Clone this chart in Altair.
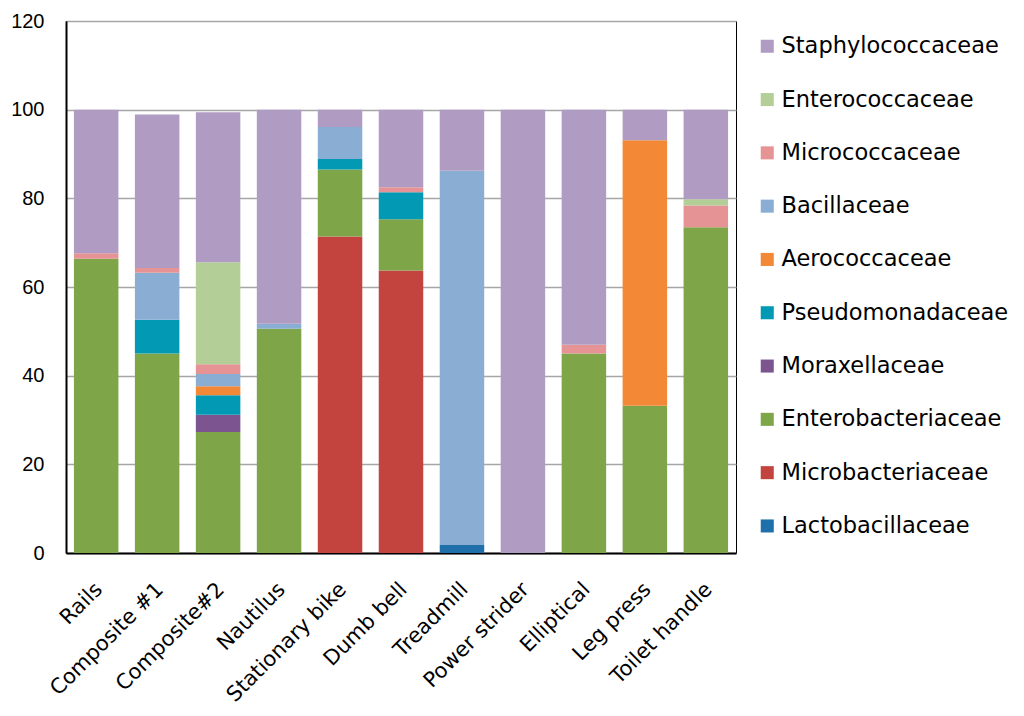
import altair as alt
import pandas as pd

sites = ["Rails", "Composite #1", "Composite#2", "Nautilus", "Stationary bike",
         "Dumb bell", "Treadmill", "Power strider", "Elliptical", "Leg press",
         "Toilet handle"]

# stacking order, bottom first
families = ["Lactobacillaceae", "Microbacteriaceae", "Enterobacteriaceae",
            "Moraxellaceae", "Pseudomonadaceae", "Aerococcaceae", "Bacillaceae",
            "Micrococcaceae", "Enterococcaceae", "Staphylococcaceae"]
family_colors = ["#1F70AA", "#C3443F", "#7EA548", "#7C5590", "#0199B3",
                 "#F38836", "#8AADD4", "#E59394", "#B3CE96", "#B09CC3"]

lactobacillaceae   = [0, 0, 0, 0, 0, 0, 1.8, 0, 0, 0, 0]
microbacteriaceae  = [0, 0, 0, 0, 71.4, 63.7, 0, 0, 0, 0, 0]
enterobacteriaceae = [66.4, 45.0, 27.3, 50.6, 15.1, 11.6, 0, 0, 45.0, 33.2, 73.5]
moraxellaceae      = [0, 0, 3.9, 0, 0, 0, 0, 0, 0, 0, 0]
pseudomonadaceae   = [0, 7.6, 4.4, 0, 2.4, 6.1, 0, 0, 0, 0, 0]
aerococcaceae      = [0, 0, 2.0, 0, 0, 0, 0, 0, 0, 59.9, 0]
bacillaceae        = [0, 10.6, 2.8, 1.1, 7.2, 0, 84.4, 0, 0, 0, 0]
micrococcaceae     = [1.2, 1.1, 2.2, 0, 0, 1.1, 0, 0, 2.0, 0, 4.9]
enterococcaceae    = [0, 0, 23.0, 0, 0, 0, 0, 0, 0, 0, 1.4]
staphylococcaceae  = [32.4, 34.6, 33.8, 48.3, 3.9, 17.5, 13.8, 100, 53.0, 6.9, 20.2]

series = [lactobacillaceae, microbacteriaceae, enterobacteriaceae, moraxellaceae,
          pseudomonadaceae, aerococcaceae, bacillaceae, micrococcaceae,
          enterococcaceae, staphylococcaceae]

rows = []
for rank, (fam, vals) in enumerate(zip(families, series)):
    for site, v in zip(sites, vals):
        if v > 0:
            rows.append({"site": site, "family": fam, "value": v, "rank": rank})
df = pd.DataFrame(rows)

legend_order = families[::-1]
legend_colors = family_colors[::-1]

chart = alt.Chart(df).mark_bar().encode(
    x=alt.X("site:N", sort=sites, title=None,
            scale=alt.Scale(paddingInner=0.27, paddingOuter=0.13),
            axis=alt.Axis(labelAngle=-45, labelAlign="right", labelBaseline="middle",
                          labelPadding=33, labelOffset=3, ticks=False, tickSize=0,
                          labelFont="DejaVu Sans", labelFontSize=21, labelColor="#000",
                          domainColor="#000", domainWidth=2, labelOverlap=False)),
    y=alt.Y("value:Q", stack="zero", title=None,
            scale=alt.Scale(domain=[0, 120], nice=False),
            axis=alt.Axis(values=[0, 20, 40, 60, 80, 100, 120], ticks=False, tickSize=0,
                          labelPadding=22, labelFont="Liberation Sans", labelFontSize=20,
                          labelColor="#000", domainColor="#000", domainWidth=2,
                          gridColor="#A6A6A6", gridWidth=1.3)),
    color=alt.Color("family:N", title=None,
                    scale=alt.Scale(domain=legend_order, range=legend_colors),
                    legend=alt.Legend(orient="none", legendX=690, legendY=14,
                                      symbolType="square", symbolSize=170,
                                      symbolStrokeWidth=0, labelFont="DejaVu Sans",
                                      labelFontSize=22.5, labelColor="#000",
                                      labelOffset=3, rowPadding=30.3, padding=0,
                                      labelLimit=400)),
    order=alt.Order("rank:Q", sort="ascending"),
).properties(
    width=670,
    height=532,
    autosize="none",
    padding={"left": 58, "top": 13, "right": 280, "bottom": 158},
).configure_view(
    stroke="#000",
    strokeWidth=1,
)

chart.save("out.html", embed_options={"renderer": "svg", "actions": False})
